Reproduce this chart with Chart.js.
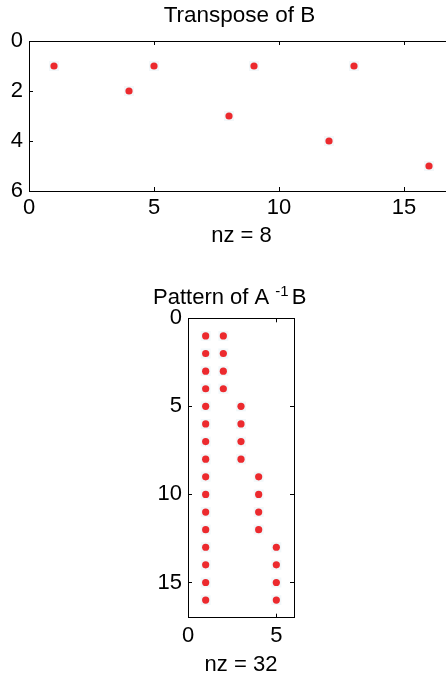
<!DOCTYPE html>
<html>
<head>
<meta charset="utf-8">
<script src="https://cdn.jsdelivr.net/npm/chart.js@4/dist/chart.umd.min.js"></script>
<style>
  html, body { margin: 0; padding: 0; background: #fff; overflow: hidden; width: 446px; height: 678px; }
  canvas { position: absolute; left: 0; }
  #topChart { top: 0; }
  #bottomChart { top: 270px; }
</style>
</head>
<body>
<canvas id="topChart" width="470" height="250"></canvas>
<canvas id="bottomChart" width="446" height="408"></canvas>
<script>
// Transpose of B: nonzero positions (column, row)
const bCols = [1, 4, 5, 8, 9, 12, 13, 16];
const bRows = [1, 2, 1, 3, 1, 4, 1, 5];
const bXTicks = [0, 5, 10, 15];
const bYTicks = [0, 2, 4, 6];

// Pattern of A^-1 B: nonzero positions (column, row)
const pCols = [1, 1, 1, 1, 1, 1, 1, 1, 1, 1, 1, 1, 1, 1, 1, 1,
               2, 2, 2, 2, 3, 3, 3, 3, 4, 4, 4, 4, 5, 5, 5, 5];
const pRows = [1, 2, 3, 4, 5, 6, 7, 8, 9, 10, 11, 12, 13, 14, 15, 16,
               1, 2, 3, 4, 5, 6, 7, 8, 9, 10, 11, 12, 13, 14, 15, 16];
const pXTicks = [0, 5];
const pYTicks = [0, 5, 10, 15];

const FONT = 'Liberation Sans, Arial, Helvetica, sans-serif';
const RED = '#ec2a2e';

// box round the axes with small inward ticks, like matlab
const boxPlugin = {
    id: 'box',
    afterDraw(chart) {
        const ctx = chart.ctx;
        const a = chart.chartArea;
        const len = 4;
        ctx.save();
        ctx.strokeStyle = '#000';
        ctx.lineWidth = 1;
        ctx.strokeRect(Math.round(a.left) + 0.5, Math.round(a.top) + 0.5,
            Math.round(a.right - a.left), Math.round(a.bottom - a.top));
        ctx.beginPath();
        chart.scales.x.ticks.forEach(t => {
            const px = Math.round(chart.scales.x.getPixelForValue(t.value)) + 0.5;
            ctx.moveTo(px, a.bottom); ctx.lineTo(px, a.bottom - len);
            ctx.moveTo(px, a.top); ctx.lineTo(px, a.top + len);
        });
        chart.scales.y.ticks.forEach(t => {
            const py = Math.round(chart.scales.y.getPixelForValue(t.value)) + 0.5;
            ctx.moveTo(a.left, py); ctx.lineTo(a.left + len, py);
            ctx.moveTo(a.right, py); ctx.lineTo(a.right - len, py);
        });
        ctx.stroke();
        ctx.restore();
    }
};

// title with optional superscript pieces: [text, isSup, gapAfter]
const titlePlugin = {
    id: 'matTitle',
    afterDraw(chart, args, o) {
        if (!o.parts) return;
        const ctx = chart.ctx;
        ctx.save();
        ctx.fillStyle = '#000';
        ctx.textBaseline = 'alphabetic';
        ctx.textAlign = 'left';
        let w = 0;
        o.parts.forEach(p => {
            ctx.font = (p[1] ? 15 : o.size) + 'px ' + FONT;
            w += ctx.measureText(p[0]).width + (p[2] || 0);
        });
        let x = o.cx - w / 2;
        o.parts.forEach(p => {
            ctx.font = (p[1] ? 15 : o.size) + 'px ' + FONT;
            ctx.fillText(p[0], x, p[1] ? o.base - 8 : o.base);
            x += ctx.measureText(p[0]).width + (p[2] || 0);
        });
        ctx.restore();
    }
};

function spy(canvasId, cols, rows, opt) {
    const pts = cols.map((c, i) => ({ x: c, y: rows[i] }));
    return new Chart(document.getElementById(canvasId), {
        type: 'scatter',
        data: {
            datasets: [{
                data: pts,
                order: 1,
                backgroundColor: RED,
                borderWidth: 0,
                pointRadius: 3.6,
                pointHoverRadius: 3.6
            }, {
                // faint blur round each nonzero, drawn underneath
                data: pts,
                order: 2,
                pointStyle: 'rect',
                backgroundColor: 'rgba(205,225,235,0.28)',
                borderWidth: 0,
                pointRadius: 7,
                pointHoverRadius: 7
            }]
        },
        options: {
            responsive: false,
            animation: false,
            events: [],
            layout: { padding: opt.padding },
            plugins: {
                legend: { display: false },
                tooltip: { enabled: false },
                title: { display: false, text: opt.title },
                matTitle: opt.titleDraw
            },
            scales: {
                x: {
                    type: 'linear',
                    min: 0,
                    max: opt.xMax,
                    afterBuildTicks: s => { s.ticks = opt.xTicks.map(v => ({ value: v })); },
                    afterFit: s => { s.height = opt.xHeight; },
                    grid: { display: false, drawTicks: false },
                    border: { display: false },
                    ticks: { color: '#000', font: { family: FONT, size: 22 }, padding: opt.xPad, maxRotation: 0, autoSkip: false },
                    title: {
                        display: true,
                        text: opt.xLabel,
                        color: '#000',
                        font: { family: FONT, size: 22, lineHeight: 1.2 },
                        padding: { top: 0, bottom: opt.xTitlePad }
                    }
                },
                y: {
                    type: 'linear',
                    reverse: true,
                    min: 0,
                    max: opt.yMax,
                    afterBuildTicks: s => { s.ticks = opt.yTicks.map(v => ({ value: v })); },
                    afterFit: s => { s.width = opt.yWidth; },
                    grid: { display: false, drawTicks: false },
                    border: { display: false },
                    ticks: { color: '#000', font: { family: FONT, size: 22 }, padding: 6, autoSkip: false }
                }
            }
        },
        plugins: [boxPlugin, titlePlugin]
    });
}

spy('topChart', bCols, bRows, {
    title: 'Transpose of B',
    titleDraw: { parts: [['Transpose of B', false]], cx: 239.5, base: 22.3, size: 22.5 },
    xLabel: 'nz = 8',
    xMax: 17, yMax: 6,
    xTicks: bXTicks, yTicks: bYTicks,
    padding: { left: 0, right: 16, top: 41, bottom: 0 },
    xHeight: 59, yWidth: 29,
    xPad: 4, xTitlePad: 1
});

spy('bottomChart', pCols, pRows, {
    title: 'Pattern of A\u207B\u00B9B',
    titleDraw: { parts: [['Pattern of A ', false], ['-1', true, 3], ['B', false]], cx: 229.7, base: 34, size: 22 },
    xLabel: 'nz = 32',
    xMax: 6, yMax: 17,
    xTicks: pXTicks, yTicks: pYTicks,
    padding: { left: 0, right: 152, top: 48.3, bottom: 0 },
    xHeight: 60.3, yWidth: 188,
    xPad: 5, xTitlePad: 0
});
</script>
</body>
</html>
